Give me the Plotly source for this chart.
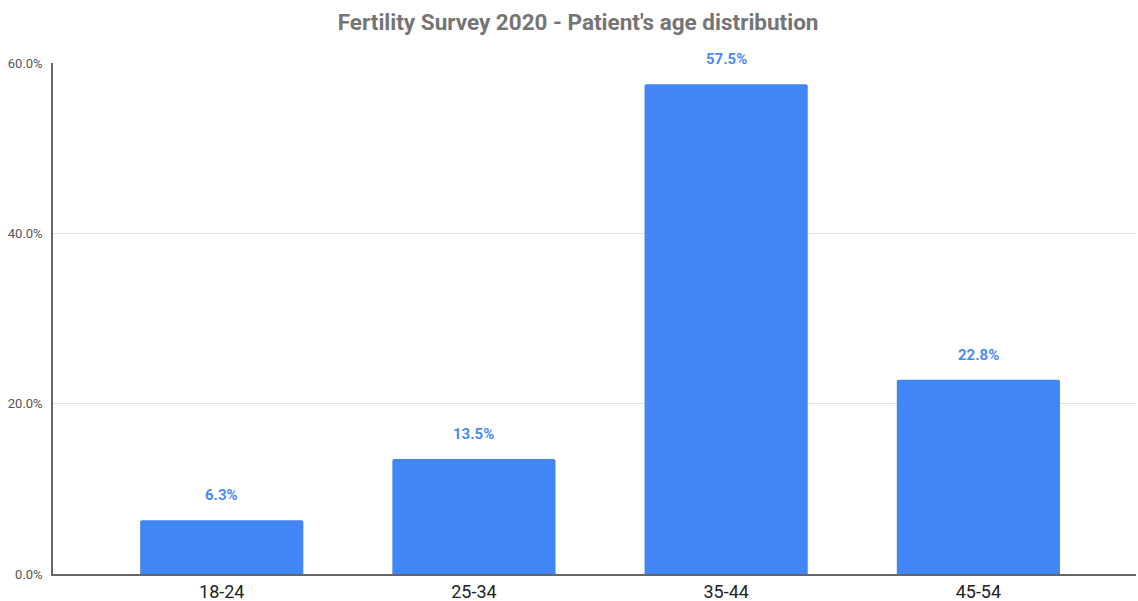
import plotly.graph_objects as go

age_groups = ["18-24", "25-34", "35-44", "45-54"]
share_pct = [6.3, 13.5, 57.5, 22.8]
y_ticks = [0, 20, 40, 60]

bar_blue = "#4285F4"

fig = go.Figure()
fig.add_trace(go.Bar(
    x=age_groups,
    y=share_pct,
    marker=dict(color=bar_blue, line=dict(width=0), cornerradius=2),
    width=0.647,
    hoverinfo="skip",
))

# value labels above each bar
for cat, val in zip(age_groups, share_pct):
    fig.add_annotation(
        x=cat, y=val, text=f"<b>{val:.1f}%</b>", showarrow=False,
        yshift=25, font=dict(family="Roboto", size=15, color="#4a8af4"),
    )

fig.update_layout(
    width=1138, height=601,
    margin=dict(l=53, r=2, t=63, b=27),
    paper_bgcolor="white", plot_bgcolor="white",
    showlegend=False,
    title=dict(
        text="<b>Fertility Survey 2020 - Patient's age distribution</b>",
        x=0.508, xanchor="center", y=0.963, yanchor="middle",
        font=dict(family="Roboto", size=22.5, color="#757575"),
    ),
    xaxis=dict(
        range=[-0.669, 3.625], automargin=False,
        showgrid=False, showline=True, linecolor="#666666", linewidth=1.5,
        ticks="", ticklabelstandoff=1,
        tickfont=dict(family="Roboto", size=18, color="#222222"),
        fixedrange=True,
    ),
    yaxis=dict(
        range=[0, 60], tickvals=y_ticks, automargin=False,
        ticktext=[f"{v:.1f}%" for v in y_ticks],
        showgrid=True, gridcolor="#e2e2e2", gridwidth=1,
        showline=True, linecolor="#666666", linewidth=1.5,
        zeroline=False, ticks="", ticklabelstandoff=6,
        tickfont=dict(family="Roboto", size=13, color="#555555"),
        fixedrange=True,
    ),
)

fig.write_html("out.html")
